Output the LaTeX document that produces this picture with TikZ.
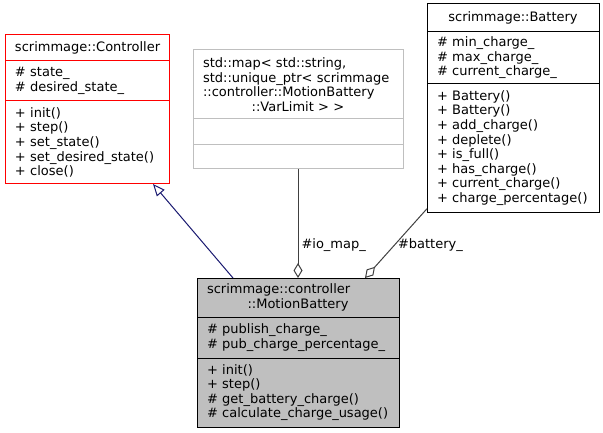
\documentclass[tikz,border=0pt]{standalone}
\usepackage{fontspec}
\setmainfont{DejaVu Sans}
\usetikzlibrary{positioning,arrows.meta}
\definecolor{navy}{HTML}{191970}
\definecolor{grey25}{HTML}{404040}
\definecolor{grey75}{HTML}{BFBFBF}
\newcommand{\ctrtext}[1]{\hbox to \hsize{\hfil#1\hfil}}

\begin{document}
\begin{tikzpicture}[x=1pt, y=-1pt, line width=1pt,
        every node/.style={font=\fontsize{13pt}{14.6pt}\selectfont},
        classbox/.style={draw, fill=white, inner xsep=10pt, inner ysep=0pt, outer sep=0pt, align=left},
        inherit/.style={-{Triangle[open, length=12pt, width=10pt]}, draw=navy},
        uses/.style={{Diamond[open, length=15pt, width=9pt]}-, draw=grey25}]
        \useasboundingbox (0,0) rectangle (603,433);

        % Base class (truncated, red frame)
        \node[classbox, draw=red, align=center, text width=144pt, minimum height=26pt, anchor=north west] (ctrl) at (5,35) {scrimmage::Controller};
        \node[classbox, draw=red, text width=144pt, minimum height=39.7pt, below=0pt of ctrl] (ctrlattr) {\# state\_\\\# desired\_state\_};
        \node[classbox, draw=red, text width=144pt, minimum height=83.3pt, below=0pt of ctrlattr] (ctrlop) {+ init()\\+ step()\\+ set\_state()\\+ set\_desired\_state()\\+ close()};

        % Undocumented map type (grey frame)
        \node[classbox, draw=grey75, text width=190pt, minimum height=69pt, anchor=north west] (map) at (193,50) {std::map< std::string,\\std::unique\_ptr< scrimmage\\::controller::MotionBattery\\\ctrtext{::VarLimit > >}};
        \node[classbox, draw=grey75, text width=190pt, minimum height=26pt, below=0pt of map] (mapattr) {};
        \node[classbox, draw=grey75, text width=190pt, minimum height=24pt, below=0pt of mapattr] (mapop) {};

        % Battery
        \node[classbox, align=center, text width=152pt, minimum height=28pt, anchor=north west] (bat) at (427,4) {scrimmage::Battery};
        \node[classbox, text width=152pt, minimum height=51.3pt, below=0pt of bat] (batattr) {\# min\_charge\_\\\# max\_charge\_\\\# current\_charge\_};
        \node[classbox, text width=152pt, minimum height=129.4pt, below=0pt of batattr] (batop) {+ Battery()\\+ Battery()\\+ add\_charge()\\+ deplete()\\+ is\_full()\\+ has\_charge()\\+ current\_charge()\\+ charge\_percentage()};

        % The class itself (grey fill)
        \node[classbox, fill=grey75, text width=182pt, minimum height=39pt, anchor=north west] (motion) at (197,278) {scrimmage::controller\\\ctrtext{::MotionBattery}};
        \node[classbox, fill=grey75, text width=182pt, minimum height=41pt, below=0pt of motion] (motionattr) {\# publish\_charge\_\\\# pub\_charge\_percentage\_};
        \node[classbox, fill=grey75, text width=182pt, minimum height=69pt, below=0pt of motionattr] (motionop) {+ init()\\+ step()\\\# get\_battery\_charge()\\\# calculate\_charge\_usage()};

        % Edges
        \draw[inherit] ([xshift=-65pt]motion.north) -- ([xshift=66pt]ctrlop.south);
        \draw[uses] (motion.north) -- (mapop.south);
        \draw[uses] ([xshift=67pt]motion.north) -- ([yshift=4pt]batop.south west);

        \node[anchor=west, inner sep=0pt] (iolbl) at (301,245) {\#io\_map\_};
        \node[anchor=west, inner sep=0pt] (batlbl) at (397.5,245) {\#battery\_};
    \end{tikzpicture}
\end{document}
